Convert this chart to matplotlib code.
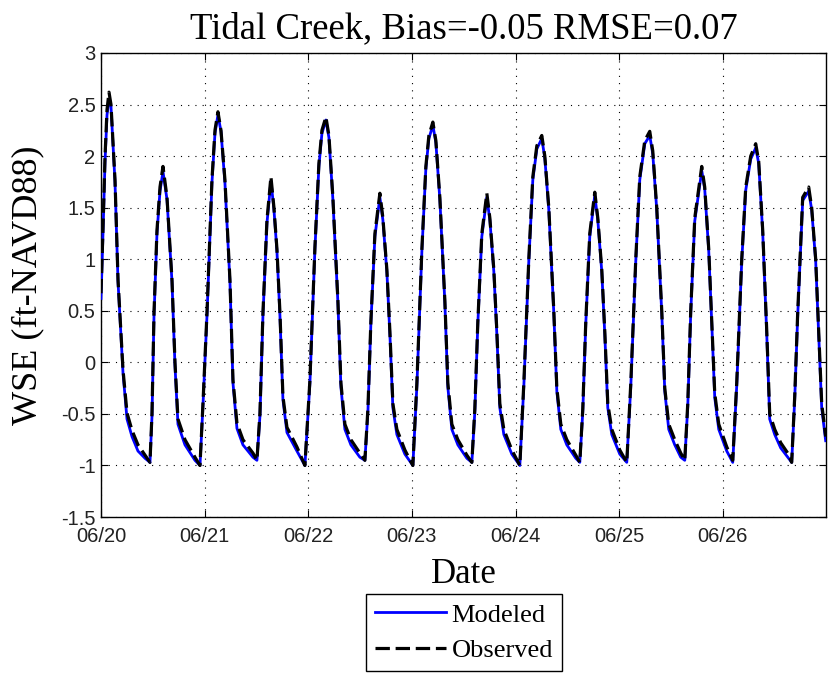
import matplotlib
matplotlib.use("Agg")
import matplotlib.pyplot as plt
from matplotlib.lines import Line2D

# hours since 06/20 00:00
hours = [
    0.0, 0.46, 0.93, 1.39, 1.85, 2.31, 3.24, 3.94, 5.09, 6.02, 7.18, 8.56, 10.19, 11.34,
    11.81, 12.27, 12.96, 13.66, 14.35, 15.28, 16.44, 17.13, 17.82, 19.44, 21.76, 22.92,
    23.61, 24.54, 25.69, 26.39, 27.08, 27.78, 28.70, 29.86, 30.56, 31.48, 32.87, 35.19, 36.11,
    36.81, 37.50, 38.43, 39.35, 40.05, 40.74, 41.44, 42.13, 43.06, 45.37, 47.22,
    48.38, 49.54, 50.46, 51.16, 52.08, 52.78, 53.70, 54.86, 55.56, 56.48, 57.87, 59.95, 61.11,
    61.81, 62.50, 63.43, 64.58, 65.28, 66.20, 66.90, 67.59, 68.52, 70.37, 72.22,
    73.15, 74.31, 75.23, 75.93, 76.85, 77.55, 78.47, 79.63, 80.32, 81.25, 82.64, 84.72, 85.88,
    86.57, 87.27, 88.19, 89.35, 90.05, 90.97, 91.67, 92.36, 93.29, 95.14, 96.99,
    97.92, 99.07, 100.0, 100.93, 102.08, 102.78, 103.70, 104.86, 105.56, 106.48, 107.87, 109.95, 110.88,
    111.57, 112.27, 113.19, 114.35, 115.05, 115.97, 116.67, 117.36, 118.29, 120.14, 121.76,
    122.69, 123.84, 124.77, 125.93, 127.08, 127.78, 128.70, 129.86, 130.56, 131.48, 132.87, 134.26, 135.19,
    135.88, 136.57, 137.50, 139.12, 139.81, 140.74, 141.44, 142.13, 143.06, 144.91, 146.30,
    147.22, 148.38, 149.31, 150.46, 151.62, 152.31, 153.24, 154.17, 154.86, 156.02, 157.41, 159.03, 159.95,
    160.65, 161.34, 162.50, 163.89, 164.58, 165.51, 166.20, 166.90, 167.82,
]

observed = [
    0.67, 1.3, 2.0, 2.45, 2.62, 2.5, 1.77, 0.8, -0.07, -0.49, -0.66, -0.8, -0.9, -0.97,
    -0.49, 0.48, 1.28, 1.7, 1.9, 1.6, 0.8, 0.0, -0.55, -0.75, -0.92, -1.0,
    -0.4, 0.48, 1.77, 2.25, 2.43, 2.25, 1.77, 0.8, -0.17, -0.59, -0.75, -0.88, -0.95,
    -0.49, 0.48, 1.38, 1.8, 1.5, 1.1, 0.48, -0.33, -0.63, -0.82, -1.0,
    -0.17, 1.12, 1.93, 2.25, 2.38, 2.2, 1.6, 0.6, -0.2, -0.6, -0.75, -0.88, -0.95,
    -0.45, 0.4, 1.25, 1.64, 1.4, 0.9, 0.3, -0.4, -0.65, -0.85, -1.0,
    -0.2, 1.1, 1.9, 2.2, 2.33, 2.15, 1.6, 0.6, -0.2, -0.6, -0.75, -0.9, -0.97,
    -0.45, 0.4, 1.25, 1.64, 1.4, 0.9, 0.3, -0.4, -0.65, -0.85, -1.0,
    -0.2, 1.0, 1.8, 2.1, 2.2, 2.0, 1.5, 0.5, -0.25, -0.6, -0.75, -0.9, -0.97,
    -0.45, 0.4, 1.25, 1.65, 1.4, 0.9, 0.3, -0.4, -0.65, -0.85, -0.97,
    -0.2, 1.0, 1.8, 2.15, 2.24, 2.05, 1.5, 0.5, -0.25, -0.6, -0.75, -0.88, -0.95,
    -0.4, 0.5, 1.4, 1.9, 1.7, 1.1, 0.4, -0.3, -0.6, -0.82, -0.95,
    -0.2, 1.0, 1.7, 2.0, 2.12, 1.95, 1.28, 0.31, -0.5, -0.65, -0.78, -0.88, -0.97,
    -0.33, 0.48, 1.6, 1.7, 1.5, 1.0, 0.3, -0.4, -0.72,
]

modeled = [
    0.62, 1.25, 1.95, 2.4, 2.55, 2.48, 1.75, 0.78, -0.1, -0.55, -0.72, -0.86, -0.93, -0.97,
    -0.52, 0.45, 1.25, 1.66, 1.85, 1.58, 0.78, -0.03, -0.6, -0.8, -0.95, -1.0,
    -0.42, 0.45, 1.74, 2.22, 2.4, 2.24, 1.74, 0.78, -0.2, -0.64, -0.8, -0.92, -0.95,
    -0.52, 0.45, 1.35, 1.76, 1.48, 1.08, 0.45, -0.36, -0.68, -0.86, -1.0,
    -0.2, 1.1, 1.9, 2.22, 2.35, 2.18, 1.58, 0.58, -0.24, -0.65, -0.8, -0.92, -0.95,
    -0.48, 0.38, 1.22, 1.6, 1.38, 0.88, 0.27, -0.44, -0.7, -0.89, -1.0,
    -0.23, 1.08, 1.88, 2.17, 2.3, 2.13, 1.58, 0.58, -0.24, -0.65, -0.8, -0.93, -0.97,
    -0.48, 0.38, 1.22, 1.6, 1.38, 0.88, 0.27, -0.44, -0.7, -0.89, -1.0,
    -0.23, 0.98, 1.77, 2.07, 2.17, 1.98, 1.48, 0.48, -0.28, -0.65, -0.8, -0.93, -0.97,
    -0.48, 0.38, 1.22, 1.62, 1.38, 0.88, 0.27, -0.44, -0.7, -0.89, -0.97,
    -0.23, 0.98, 1.77, 2.12, 2.2, 2.02, 1.48, 0.48, -0.28, -0.65, -0.8, -0.92, -0.95,
    -0.43, 0.48, 1.37, 1.86, 1.68, 1.08, 0.38, -0.34, -0.65, -0.86, -0.97,
    -0.23, 0.98, 1.67, 1.97, 2.08, 1.93, 1.26, 0.28, -0.55, -0.7, -0.83, -0.92, -0.97,
    -0.36, 0.45, 1.57, 1.66, 1.48, 0.98, 0.27, -0.44, -0.76,
]

tick_hours = [0, 24, 48, 72, 96, 120, 144]
tick_labels = ["06/20", "06/21", "06/22", "06/23", "06/24", "06/25", "06/26"]
y_ticks = [-1.5, -1, -0.5, 0, 0.5, 1, 1.5, 2, 2.5, 3]
y_labels = ["-1.5", "-1", "-0.5", "0", "0.5", "1", "1.5", "2", "2.5", "3"]

serif = "Liberation Serif"
sans = "Liberation Sans"

fig = plt.figure(figsize=(8.3, 6.74), dpi=100)
ax = fig.add_axes([0.1217, 0.2329, 0.8735, 0.6885])

ax.plot(hours, modeled, color=(0, 0, 1), lw=2.0, zorder=3)
ax.plot(hours, observed, color="black", lw=2.3, dashes=(4.5, 1.8), zorder=4)

ax.set_xlim(0, 167.9)
ax.set_ylim(-1.5, 3)
ax.set_xticks(tick_hours)
ax.set_xticklabels(tick_labels, fontfamily=sans, fontsize=14.5, color="#222222")
ax.set_yticks(y_ticks)
ax.set_yticklabels(y_labels, fontfamily=sans, fontsize=14.5, color="#222222")
ax.tick_params(axis="both", direction="in", length=5, width=0.8, top=True, right=True)
ax.tick_params(axis="x", pad=7)
ax.tick_params(axis="y", pad=4)
ax.grid(True, color="black", lw=0.8, dashes=(1, 5.5))
for s in ax.spines.values():
    s.set_linewidth(1.0)

ax.set_title("Tidal Creek, Bias=-0.05 RMSE=0.07", fontfamily=serif, fontsize=26.5, pad=11)
ax.set_xlabel("Date", fontfamily=serif, fontsize=25)
ax.xaxis.set_label_coords(0.5, -0.088)
ax.set_ylabel("WSE (ft-NAVD88)", fontfamily=serif, fontsize=26)
ax.yaxis.set_label_coords(-0.078, 0.5)

handles = [Line2D([], [], color=(0, 0, 1), lw=2.0),
           Line2D([], [], color="black", lw=2.3, dashes=(4.5, 1.8))]
leg = fig.legend(handles, ["Modeled", "Observed"], loc="center",
                 bbox_to_anchor=(0.559, 0.0615), frameon=True, fancybox=False,
                 edgecolor="black", framealpha=1, handlelength=2.7, handletextpad=0.2,
                 borderpad=0.35, labelspacing=0.45, borderaxespad=0,
                 prop={"family": serif, "size": 19})
leg.get_frame().set_linewidth(1.0)

fig.savefig("out.png", dpi=100)
